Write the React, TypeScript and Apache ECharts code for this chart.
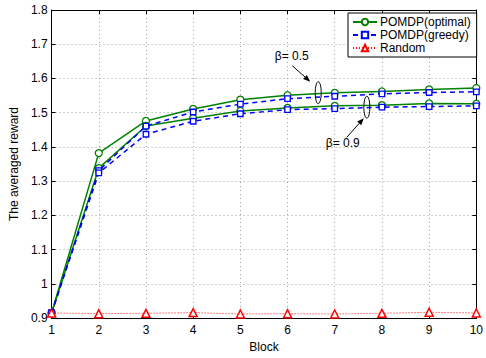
import React, { useEffect, useRef } from "react";
import * as echarts from "echarts";

const blocks = [1, 2, 3, 4, 5, 6, 7, 8, 9, 10];
const optimalB05 = [0.915, 1.382, 1.476, 1.511, 1.538, 1.551, 1.558, 1.562, 1.568, 1.572];
const optimalB09 = [0.915, 1.338, 1.461, 1.484, 1.505, 1.514, 1.52, 1.522, 1.527, 1.526];
const greedyB05 = [0.915, 1.331, 1.461, 1.502, 1.525, 1.541, 1.548, 1.555, 1.559, 1.561];
const greedyB09 = [0.915, 1.324, 1.437, 1.475, 1.497, 1.509, 1.512, 1.516, 1.518, 1.52];
const random = [0.915, 0.913, 0.914, 0.916, 0.912, 0.913, 0.912, 0.914, 0.917, 0.915];

const GREEN = "#008000";
const BLUE = "#0000ff";
const RED = "#ff0000";
const FONT = "Liberation Sans, Arial, Helvetica, sans-serif";

const pairs = (ys: number[]) => blocks.map((x, i) => [x, ys[i]]);

export default function App() {
  const ref = useRef<HTMLDivElement>(null);
  useEffect(() => {
    if (!ref.current) return;
    const chart = echarts.init(ref.current, undefined, { renderer: "svg" });
    const greenSeries = (data: number[]) => ({
      name: "POMDP(optimal)",
      type: "line",
      data: pairs(data),
      symbol: "circle",
      symbolSize: 7,
      showSymbol: true,
      lineStyle: { color: GREEN, width: 1.5, type: "solid" },
      itemStyle: { color: "#fff", borderColor: GREEN, borderWidth: 1.3 },
      color: GREEN,
      z: 3,
    });
    const blueSeries = (data: number[]) => ({
      name: "POMDP(greedy)",
      type: "line",
      data: pairs(data),
      symbol: "rect",
      symbolSize: 5.5,
      lineStyle: { color: BLUE, width: 1.5, type: [5, 4] },
      itemStyle: { color: "#fff", borderColor: BLUE, borderWidth: 1.3 },
      color: BLUE,
      z: 4,
    });
    const axisLabel = { fontFamily: FONT, fontSize: 12, color: "#000" };
    chart.setOption({
      animation: false,
      backgroundColor: "#fff",
      grid: { left: 44, right: 7, top: 10, bottom: 31, containLabel: false },
      xAxis: [
        {
          type: "value",
          min: 1,
          max: 10,
          interval: 1,
          name: "Block",
          nameLocation: "middle",
          nameGap: 19,
          nameTextStyle: { fontFamily: FONT, fontSize: 12, color: "#000" },
          axisLine: { onZero: false, lineStyle: { color: "#000", width: 1 } },
          axisTick: { inside: true, length: 4, lineStyle: { color: "#000" } },
          axisLabel: { ...axisLabel, margin: 6 },
          splitLine: { show: true, lineStyle: { color: "#a0a0a0", type: [1, 3], width: 1 } },
        },
        {
          type: "value",
          position: "top",
          min: 1,
          max: 10,
          interval: 1,
          axisLine: { onZero: false, lineStyle: { color: "#000", width: 1 } },
          axisTick: { inside: true, length: 4, lineStyle: { color: "#000" } },
          axisLabel: { show: false },
          splitLine: { show: false },
        },
      ],
      yAxis: [
        {
          type: "value",
          min: 0.9,
          max: 1.8,
          interval: 0.1,
          name: "The averaged reward",
          nameLocation: "middle",
          nameGap: 27,
          nameTextStyle: { fontFamily: FONT, fontSize: 12, color: "#000" },
          axisLine: { show: true, onZero: false, lineStyle: { color: "#000", width: 1 } },
          axisTick: { show: true, inside: true, length: 4, lineStyle: { color: "#000" } },
          axisLabel: {
            ...axisLabel,
            margin: 4,
            formatter: (v: number) => String(parseFloat(v.toFixed(2))),
          },
          splitLine: { show: true, lineStyle: { color: "#a0a0a0", type: [1, 3], width: 1 } },
        },
        {
          type: "value",
          position: "right",
          min: 0.9,
          max: 1.8,
          interval: 0.1,
          axisLine: { show: true, onZero: false, lineStyle: { color: "#000", width: 1 } },
          axisTick: { show: true, inside: true, length: 4, lineStyle: { color: "#000" } },
          axisLabel: { show: false },
          splitLine: { show: false },
        },
      ],
      legend: {
        left: 348,
        top: 13,
        orient: "vertical",
        data: ["POMDP(optimal)", "POMDP(greedy)", "Random"],
        backgroundColor: "#fff",
        borderColor: "#000",
        borderWidth: 1,
        borderRadius: 0,
        padding: [3, 6, 3, 4],
        itemGap: 1,
        itemWidth: 24,
        itemHeight: 8,
        textStyle: { fontFamily: FONT, fontSize: 12, color: "#000", padding: [0, 0, 0, -2] },
        selectedMode: false,
      },
      series: [
        greenSeries(optimalB05),
        greenSeries(optimalB09),
        blueSeries(greedyB05),
        blueSeries(greedyB09),
        {
          name: "Random",
          type: "line",
          data: pairs(random),
          symbol: "triangle",
          symbolSize: 8,
          lineStyle: { color: RED, width: 1, type: [1, 2] },
          itemStyle: { color: "#fff", borderColor: RED, borderWidth: 1.5 },
          color: RED,
          z: 5,
        },
      ],
    });

    const p = (x: number, y: number) => chart.convertToPixel({ xAxisIndex: 0, yAxisIndex: 0 }, [x, y]) as number[];
    const arrow = (from: number[], to: number[]) => {
      const dx = to[0] - from[0];
      const dy = to[1] - from[1];
      const len = Math.hypot(dx, dy);
      const ux = dx / len;
      const uy = dy / len;
      const hl = 7;
      const hw = 2.8;
      const bx = to[0] - ux * hl;
      const by = to[1] - uy * hl;
      return [
        {
          type: "line",
          shape: { x1: from[0], y1: from[1], x2: bx, y2: by },
          style: { stroke: "#000", lineWidth: 1 },
          z: 20,
        },
        {
          type: "polygon",
          shape: {
            points: [
              [to[0], to[1]],
              [bx - uy * hw, by + ux * hw],
              [bx + uy * hw, by - ux * hw],
            ],
          },
          style: { fill: "#000" },
          z: 20,
        },
      ];
    };
    const e1 = p(6.65, 1.5585);
    const e2 = p(7.68, 1.516);
    const t1 = p(6.09, 1.666);
    const t2 = p(7.17, 1.411);
    chart.setOption({
      graphic: [
        {
          type: "ellipse",
          shape: { cx: e1[0], cy: e1[1], rx: 3, ry: 11 },
          style: { fill: "none", stroke: "#000", lineWidth: 1 },
          z: 20,
        },
        {
          type: "ellipse",
          shape: { cx: e2[0], cy: e2[1], rx: 3, ry: 11 },
          style: { fill: "none", stroke: "#000", lineWidth: 1 },
          z: 20,
        },
        {
          type: "text",
          x: t1[0],
          y: t1[1],
          style: { text: "β= 0.5", fontFamily: FONT, fontSize: 12, fill: "#000", align: "center", verticalAlign: "middle" },
          z: 20,
        },
        {
          type: "text",
          x: t2[0],
          y: t2[1],
          style: { text: "β= 0.9", fontFamily: FONT, fontSize: 12, fill: "#000", align: "center", verticalAlign: "middle" },
          z: 20,
        },
        ...arrow([e1[0] - 26, e1[1] - 27], [e1[0] - 8, e1[1] - 11]),
        ...arrow([e2[0] - 20, e2[1] + 30], [e2[0] - 3, e2[1] + 11]),
      ],
    });
    return () => chart.dispose();
  }, []);
  return <div ref={ref} style={{ width: 486, height: 358, position: "absolute", left: 0, top: 0 }} />;
}
